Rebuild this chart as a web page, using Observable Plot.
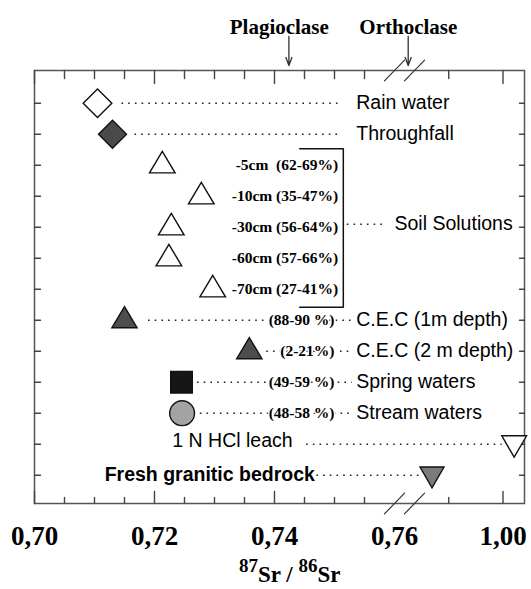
<!DOCTYPE html>
<html>
<head>
<meta charset="utf-8">
<script src="https://cdn.jsdelivr.net/npm/d3@7"></script>
<script src="https://cdn.jsdelivr.net/npm/@observablehq/plot@0.6"></script>
<style>
  html, body { margin: 0; padding: 0; background: #fff; overflow: hidden; }
  #wrap { position: relative; width: 531px; height: 589px; }
  #xtitle { position: absolute; left: 239px; top: 566px; font: bold 23px "Liberation Serif", "Times New Roman", serif; line-height: 18px; white-space: nowrap; color: #000; }
  #xtitle .sup { font-size: 19px; position: relative; top: -10px; }
</style>
</head>
<body>
<div id="wrap">
  <div id="chart"></div>
  <div id="xtitle"><span class="sup">87</span>Sr / <span class="sup">86</span>Sr</div>
</div>
<script>
// ---- data ----
const categories = ["Rain water", "Throughfall", "-5cm", "-10cm", "-30cm", "-60cm", "-70cm",
  "C.E.C (1m depth)", "C.E.C (2 m depth)", "Spring waters", "Stream waters", "1 N HCl leach", "Fresh granitic bedrock"];
const srRatios = [0.7105, 0.7130, 0.7213, 0.7278, 0.7228, 0.7224, 0.7297,
  0.7150, 0.7358, 0.7245, 0.7246, 1.026, 0.843];
const contributions = [null, null, "62-69%", "35-47%", "56-64%", "57-66%", "27-41%",
  "88-90 %", "2-21%", "49-59 %", "48-58 %", null, null];
const minerals = ["Plagioclase", "Orthoclase"];
const mineralRatios = [0.7424, 0.7903];
const tickLabels = [0.70, 0.72, 0.74, 0.76, 1.00];
const majorTicks = [0.70, 0.72, 0.74, 1.00];
const minorTicks = [0.705, 0.71, 0.715, 0.725, 0.73, 0.735, 0.745, 0.75, 0.755, 0.88];
const axisBreak = [0.76];

const rows = categories.map((name, i) => ({i, name, sr: srRatios[i], pct: contributions[i]}));

// ---- layout (annotation anchors in axis units) ----
const labelX = 0.75362;       // start of right-hand labels
const soilLabelEnd = 0.7506;  // end of depth labels
const pctLabelEnd = 0.7500;   // end of percentage labels
const soilBracketX = 0.75147, soilArmX = 0.7442;
const mineralLabelX = [0.7408, 0.7906];

// ---- symbols ----
const rOf = size => Math.sqrt(size / Math.PI);
const diamond = {draw(c, s) { const r = rOf(s); c.moveTo(0, -r); c.lineTo(r, 0); c.lineTo(0, r); c.lineTo(-r, 0); c.closePath(); }};
const triUp = {draw(c, s) { const r = rOf(s); c.moveTo(0, -1.08 * r); c.lineTo(r, 0.6 * r); c.lineTo(-r, 0.6 * r); c.closePath(); }};
const triDown = {draw(c, s) { const r = rOf(s); c.moveTo(-r, -0.68 * r); c.lineTo(r, -0.68 * r); c.lineTo(0, 1.05 * r); c.closePath(); }};
const square = {draw(c, s) { const r = rOf(s); c.moveTo(-r, -r); c.lineTo(r, -r); c.lineTo(r, r); c.lineTo(-r, r); c.closePath(); }};
const lineShape = {draw(c, l) { c.moveTo(0, 0); c.lineTo(0, -l); }};
const arrowShape = {draw(c, l) { c.moveTo(0, 0); c.lineTo(0, -l); c.moveTo(-3, -l + 8); c.lineTo(0, -l); c.lineTo(3, -l + 8); }};

const markerStyle = {
  "Rain water": {symbol: diamond, r: 14.3, fill: "white"},
  "Throughfall": {symbol: diamond, r: 14, fill: "#4a4a4a"},
  "-5cm": {symbol: triUp, r: 12.8, fill: "white"},
  "-10cm": {symbol: triUp, r: 12.8, fill: "white"},
  "-30cm": {symbol: triUp, r: 12.8, fill: "white"},
  "-60cm": {symbol: triUp, r: 12.8, fill: "white"},
  "-70cm": {symbol: triUp, r: 12.8, fill: "white"},
  "C.E.C (1m depth)": {symbol: triUp, r: 12.6, fill: "#4d4d4d"},
  "C.E.C (2 m depth)": {symbol: triUp, r: 12.6, fill: "#4d4d4d"},
  "Spring waters": {symbol: square, r: 10.8, fill: "#161616"},
  "Stream waters": {symbol: "circle", r: 12.4, fill: "#a3a3a3"},
  "1 N HCl leach": {symbol: triDown, r: 12.4, fill: "white"},
  "Fresh granitic bedrock": {symbol: triDown, r: 12, fill: "#7b7b7b"}
};

// leader lines (dotted): [row, x1, x2, insetLeft, insetRight]
const leaderSpec = [
  [0, "sr", soilLabelEnd, 24.5, 0],
  [1, "sr", soilLabelEnd, 22.5, 0],
  [7, "sr", labelX, 24, 4],
  [8, "sr", labelX, 17.5, 4],
  [9, "sr", labelX, 16, 4],
  [10, "sr", labelX, 11.5, 4],
  [11, 0.74302, "sr", 14, 12],
  [12, 0.74673, "sr", 2, 12]
];

const serif = "Liberation Serif, Times New Roman, serif";
const sans = "Liberation Sans, Arial, sans-serif";
const dots = {stroke: "#222", strokeWidth: 1.6, strokeDasharray: "1.6,5.1", strokeLinecap: "butt"};
const tickStroke = {stroke: "#444", strokeWidth: 1.4, shape: lineShape, anchor: "start"};

const marks = [];
marks.push(Plot.frame({stroke: "#555", strokeWidth: 1.5}));

// ticks
marks.push(Plot.vector(majorTicks, {x: d => d, frameAnchor: "bottom", rotate: 0, length: 12, ...tickStroke}));
marks.push(Plot.vector(minorTicks, {x: d => d, frameAnchor: "bottom", rotate: 0, length: 6, ...tickStroke}));
marks.push(Plot.vector(majorTicks, {x: d => d, frameAnchor: "top", rotate: 180, length: 13, ...tickStroke}));
marks.push(Plot.vector(minorTicks, {x: d => d, frameAnchor: "top", rotate: 180, length: 8, ...tickStroke}));
marks.push(Plot.vector(rows, {y: "i", frameAnchor: "left", rotate: 90, length: 6, ...tickStroke}));
marks.push(Plot.vector(rows, {y: "i", frameAnchor: "right", rotate: -90, length: 5, ...tickStroke}));

// axis break marks
for (const fa of ["top", "bottom"]) {
  for (const dx of [0, 20]) {
    marks.push(Plot.vector(axisBreak, {x: d => d, frameAnchor: fa, dx, rotate: 44, length: 29, anchor: "middle",
      shape: lineShape, stroke: "#333", strokeWidth: 1.2}));
  }
}

// tick labels
marks.push(Plot.text(tickLabels, {x: d => d, text: d => d.toFixed(2).replace(".", ","), frameAnchor: "bottom",
  lineAnchor: "bottom", dy: 41, fontSize: 27, fontWeight: "bold", fontFamily: serif, fill: "black"}));

// mineral arrows and labels
const mineralData = minerals.map((m, k) => ({m, v: mineralRatios[k], lx: mineralLabelX[k]}));
marks.push(Plot.vector(mineralData, {x: "v", frameAnchor: "top", rotate: 180, length: 29, anchor: "end", dy: -5,
  shape: arrowShape, stroke: "#333", strokeWidth: 1.3}));
marks.push(Plot.text(mineralData, {x: "lx", text: "m", frameAnchor: "top", lineAnchor: "bottom", dy: -37,
  fontSize: 21, fontWeight: "bold", fontFamily: serif, fill: "black"}));

// leaders
for (const [ri, a, b, il, ir] of leaderSpec) {
  const d = rows[ri];
  marks.push(Plot.ruleY([d], {y: "i", x1: a === "sr" ? "sr" : () => a, x2: b === "sr" ? "sr" : () => b,
    insetLeft: il, insetRight: ir, ...dots}));
}
// soil solutions bracket and leader
const soilRows = rows.filter(d => d.i >= 2 && d.i <= 6);
const yTop = soilRows[0].i - 0.53, yBot = soilRows[soilRows.length - 1].i + 0.58;
marks.push(Plot.line([[soilArmX, yTop], [soilBracketX, yTop], [soilBracketX, yBot], [soilArmX, yBot]],
  {x: d => d[0], y: d => d[1], stroke: "#111", strokeWidth: 1.5, curve: "linear"}));
marks.push(Plot.ruleY([4], {y: d => d, x1: () => soilBracketX, x2: () => 0.76, insetLeft: 4, insetRight: 8, dy: -3, ...dots}));

// depth labels
marks.push(Plot.text(soilRows, {x: () => soilLabelEnd, y: "i",
  text: d => d.name + (d.name === "-5cm" ? "\u00a0 " : " ") + "(" + d.pct + ")",
  textAnchor: "end", fontSize: 15.5, fontWeight: "bold", fontFamily: serif, fill: "black"}));
// percentage labels with halo
marks.push(Plot.text(rows.filter(d => d.i >= 7 && d.i <= 10), {x: () => pctLabelEnd, y: "i",
  text: d => "(" + d.pct + ")", textAnchor: "end", fontSize: 15.5, fontWeight: "bold", fontFamily: serif,
  fill: "black", stroke: "white", strokeWidth: 3, paintOrder: "stroke"}));

// category labels
marks.push(Plot.text(rows.filter(d => [0, 1, 7, 8, 9, 10].includes(d.i)), {x: () => labelX, y: "i", text: "name",
  textAnchor: "start", fontSize: 19.5, fontFamily: sans, fill: "black"}));
marks.push(Plot.text(["Soil Solutions"], {x: () => 0.76, y: () => 4, dy: -3, text: d => d,
  textAnchor: "start", fontSize: 19.5, fontFamily: sans, fill: "black"}));
marks.push(Plot.text([rows[11]], {x: () => 0.74302, y: "i", dy: -3, text: "name",
  textAnchor: "end", fontSize: 19.5, fontFamily: sans, fill: "black"}));
marks.push(Plot.text([rows[12]], {x: () => 0.74673, y: "i", text: "name",
  textAnchor: "end", fontSize: 19.5, fontWeight: "bold", fontFamily: sans, fill: "black"}));

// markers
for (const d of rows) {
  const s = markerStyle[d.name];
  marks.push(Plot.dot([d], {x: "sr", y: "i", symbol: s.symbol, r: s.r, fill: s.fill, stroke: "#111", strokeWidth: 1.4}));
}

const chart = Plot.plot({
  width: 531, height: 560,
  marginLeft: 34, marginRight: 7, marginTop: 70, marginBottom: 57,
  x: {type: "linear", domain: [0.70, 0.76, 1.00, 1.05], range: [34, 394, 502.5, 524], axis: null},
  y: {type: "linear", domain: [-1.055, 12.913], range: [70, 503], axis: null},
  style: {fontFamily: sans, background: "white", overflow: "visible"},
  marks
});
document.getElementById("chart").appendChild(chart);
</script>
</body>
</html>
